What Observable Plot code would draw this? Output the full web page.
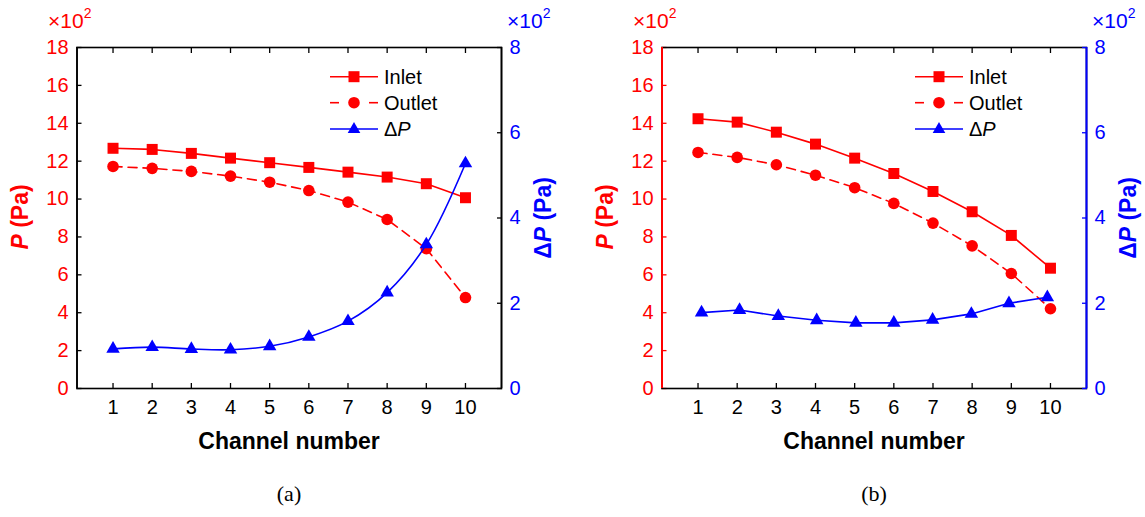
<!DOCTYPE html>
<html>
<head>
<meta charset="utf-8">
<script src="https://cdn.jsdelivr.net/npm/d3@7"></script>
<script src="https://cdn.jsdelivr.net/npm/@observablehq/plot@0.6"></script>
<style>
  body { margin: 0; background: #fff; font-family: "Liberation Sans", Arial, sans-serif; }
  #root { position: relative; width: 1145px; height: 517px; overflow: hidden; background: #fff; }
  .panel { position: absolute; top: 0; width: 572px; height: 517px; }
  .layer { position: absolute; left: 0; top: 0; }
  .txt { position: absolute; white-space: nowrap; line-height: 1; }
  .ctr { transform: translate(-50%, -50%); }
  .rot { transform: translate(-50%, -50%) rotate(-90deg); }
  .ttl { font-weight: bold; font-size: 23px; }
  .mult { font-size: 21px; }
  .mult sup { font-size: 14px; position: relative; top: -2px; }
  .cap { font-family: "Liberation Serif", "Times New Roman", serif; font-size: 22px; }
</style>
</head>
<body>
<div id="root"></div>
<script>
// ---------- data ----------
const channels = [1, 2, 3, 4, 5, 6, 7, 8, 9, 10];
const pTicks = [0, 2, 4, 6, 8, 10, 12, 14, 16, 18];
const dpTicks = [0, 2, 4, 6, 8];

// panel (a)
const inletA  = [12.68, 12.62, 12.41, 12.16, 11.92, 11.67, 11.42, 11.16, 10.81, 10.07];
const outletA = [11.72, 11.62, 11.46, 11.21, 10.89, 10.45, 9.84, 8.92, 7.38, 4.80];
const dpA     = [0.93, 0.97, 0.925, 0.91, 0.99, 1.21, 1.58, 2.25, 3.38, 5.28];
const dpXA    = [1, 2, 3, 4, 5, 6, 7, 8, 9, 10];

// panel (b)
const inletB  = [14.24, 14.06, 13.53, 12.90, 12.16, 11.35, 10.40, 9.33, 8.08, 6.35];
const outletB = [12.46, 12.20, 11.81, 11.26, 10.60, 9.77, 8.73, 7.53, 6.07, 4.21];
const dpB     = [1.78, 1.84, 1.70, 1.60, 1.54, 1.54, 1.61, 1.75, 2.00, 2.14];
const dpXB    = [1.09, 2.06, 3.05, 4.03, 5.03, 6.0, 6.99, 7.98, 8.94, 9.92];

const xDomain = [0.08, 10.92];
const pDomain = [0, 18];
const dpDomain = [0, 8];

// ---------- layout ----------
const W = 572, H = 460;
const ML = 76.5, MR = W - 501, MT = 47, MB = H - 388;
const RED = "#ff0000", BLUE = "#0000ff";
const FONT = '"Liberation Sans", Arial, sans-serif';

function legendSVG() {
  const rows = [
    {y: 76.7, stroke: RED, dash: null, sym: "square", label: 'Inlet'},
    {y: 102.7, stroke: RED, dash: "8,6", sym: "circle", label: 'Outlet'},
    {y: 129, stroke: BLUE, dash: null, sym: "triangle", label: '&#916;<tspan font-style="italic">P</tspan>'}
  ];
  let s = `<svg width="572" height="160" style="position:absolute;left:0;top:0;overflow:visible" xmlns="http://www.w3.org/2000/svg">`;
  for (const r of rows) {
    if (r.dash) {
      s += `<line x1="330" x2="339" y1="${r.y}" y2="${r.y}" stroke="${r.stroke}" stroke-width="1.6"/>`;
      s += `<line x1="369" x2="378" y1="${r.y}" y2="${r.y}" stroke="${r.stroke}" stroke-width="1.6"/>`;
    } else {
      s += `<line x1="330" x2="378" y1="${r.y}" y2="${r.y}" stroke="${r.stroke}" stroke-width="1.6"/>`;
    }
    if (r.sym === "square") s += `<rect x="${354-5.5}" y="${r.y-5.5}" width="11" height="11" fill="${r.stroke}"/>`;
    if (r.sym === "circle") s += `<circle cx="354" cy="${r.y}" r="5.8" fill="${r.stroke}"/>`;
    if (r.sym === "triangle") s += `<path d="M354,${r.y-7}L${354+6.3},${r.y+4}L${354-6.3},${r.y+4}Z" fill="${r.stroke}"/>`;
    s += `<text x="384" y="${r.y}" dominant-baseline="central" font-family='${FONT}' font-size="20" fill="#000">${r.label}</text>`;
  }
  s += `</svg>`;
  return s;
}

function makePanel(left, cfg) {
  const panel = document.createElement("div");
  panel.className = "panel";
  panel.style.left = left + "px";
  document.getElementById("root").appendChild(panel);

  const rowsP = channels.map((c, i) => ({ch: c, inlet: cfg.inlet[i], outlet: cfg.outlet[i]}));
  const rowsD = channels.map((c, i) => ({ch: cfg.dpX[i], dp: cfg.dp[i]}));

  const common = {
    width: W, height: H,
    marginLeft: ML, marginRight: MR, marginTop: MT, marginBottom: MB,
    style: {background: "transparent", fontFamily: FONT, fontSize: "20px", overflow: "visible", color: "#000"}
  };

  const pPlot = Plot.plot({
    ...common,
    x: {domain: xDomain},
    y: {domain: pDomain},
    marks: [
      Plot.axisX({anchor: "bottom", ticks: channels, tickSize: -5, tickPadding: 16, label: null, stroke: "#000", fill: "#000", strokeWidth: 1.3, fontSize: 20}),
      Plot.axisX({anchor: "top", ticks: channels, tickSize: -5, tickFormat: () => "", label: null, stroke: "#000", strokeWidth: 1.3}),
      Plot.axisY({anchor: "left", ticks: pTicks, tickSize: -5, tickPadding: 13.4, label: null, stroke: cfg.leftTick, fill: RED, strokeWidth: 1.3, fontSize: 20}),
      Plot.line(rowsP, {x: "ch", y: "outlet", stroke: RED, strokeWidth: 1.6, strokeDasharray: "9,6"}),
      Plot.line(rowsP, {x: "ch", y: "inlet", stroke: RED, strokeWidth: 1.6}),
      Plot.dot(rowsP, {x: "ch", y: "inlet", symbol: "square", r: 6.2, fill: RED}),
      Plot.dot(rowsP, {x: "ch", y: "outlet", symbol: "circle", r: 5.8, fill: RED}),
      Plot.frame({stroke: "#000", strokeWidth: 1.6}),
      Plot.ruleX([xDomain[0]], {stroke: cfg.leftSpine, strokeWidth: cfg.spineW})
    ]
  });

  const dPlot = Plot.plot({
    ...common,
    x: {domain: xDomain, axis: null},
    y: {domain: dpDomain},
    marks: [
      Plot.axisY({anchor: "right", ticks: dpTicks, tickSize: -5, tickPadding: 13, label: null, stroke: cfg.rightTick, fill: BLUE, strokeWidth: 1.3, fontSize: 20}),
      Plot.line(rowsD, {x: "ch", y: "dp", stroke: BLUE, strokeWidth: 1.6, curve: cfg.dpCurve}),
      Plot.dot(rowsD, {x: "ch", y: "dp", symbol: "triangle", r: 5, fill: BLUE}),
      Plot.ruleX([xDomain[1]], {stroke: cfg.rightSpine, strokeWidth: cfg.spineW})
    ]
  });

  const l1 = document.createElement("div"); l1.className = "layer"; l1.appendChild(pPlot); panel.appendChild(l1);
  const l2 = document.createElement("div"); l2.className = "layer"; l2.appendChild(dPlot); panel.appendChild(l2);

  const leg = document.createElement("div"); leg.className = "layer"; leg.innerHTML = legendSVG(); panel.appendChild(leg);

  const add = (html, cls, x, y, color) => {
    const d = document.createElement("div");
    d.className = "txt " + cls;
    d.style.left = x + "px"; d.style.top = y + "px";
    if (color) d.style.color = color;
    d.innerHTML = html;
    panel.appendChild(d);
  };
  add('<i>P</i> (Pa)', "ttl rot", 20, 217, RED);
  add('&#916;<i>P</i> (Pa)', "ttl rot", 543, 218, BLUE);
  add('Channel number', "ttl ctr", 289, 441, "#000");
  add(cfg.caption, "cap ctr", 289, 494, "#000");
  add('&#215;10<sup>2</sup>', "mult", 48, 8, RED);
  add('&#215;10<sup>2</sup>', "mult", 507, 8, BLUE);
}

makePanel(0, {
  inlet: inletA, outlet: outletA, dp: dpA, dpX: dpXA,
  leftTick: "#000", rightTick: "#000", leftSpine: "#000", rightSpine: "#000", spineW: 1.6,
  dpCurve: "catmull-rom", caption: "(a)"
});
makePanel(585, {
  inlet: inletB, outlet: outletB, dp: dpB, dpX: dpXB,
  leftTick: RED, rightTick: BLUE, leftSpine: RED, rightSpine: BLUE, spineW: 2,
  dpCurve: "linear", caption: "(b)"
});
</script>
</body>
</html>
